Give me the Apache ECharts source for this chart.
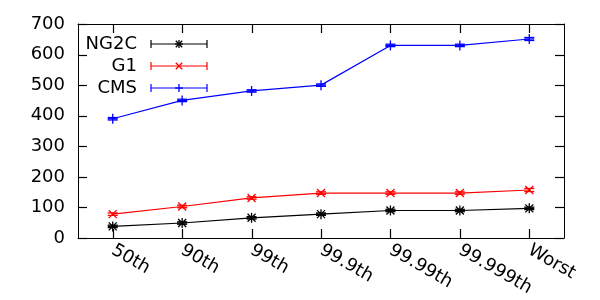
<!DOCTYPE html>
<html><head><meta charset="utf-8">
<script src="https://cdn.jsdelivr.net/npm/echarts@6/dist/echarts.min.js"></script>
<style>html,body{margin:0;padding:0;background:#fff}#c{width:600px;height:300px}</style>
</head><body><div id="c"></div>
<script>
var categories = ['50th', '90th', '99th', '99.9th', '99.99th', '99.999th', 'Worst'];
var ng2c = [38, 49, 66, 78, 90, 90, 97];
var g1 = [78, 103, 131, 147, 147, 147, 157];
var cms = [390, 450, 481, 500, 630, 630, 651];
var ng2cErr = [4, 4, 4, 4, 4, 4, 4];
var g1Err = [4, 4, 4, 4, 4, 4, 5];
var cmsErr = [4, 4, 4, 4, 4, 4, 5];
var yTicks = [0, 100, 200, 300, 400, 500, 600, 700];

(function () {
var FONT = 'DejaVu Sans';
var FS = 18;
var TICK = 9;
var GL = 78, GR = 36, GT = 24, GB = 62, W = 600, H = 300;
var chart = echarts.init(document.getElementById('c'));

function errData(vals, errs) {
  return vals.map(function (v, i) { return [i, v, v - errs[i], v + errs[i]]; });
}
function seg(x1, y1, x2, y2, color, w) {
  return { type: 'line', shape: { x1: x1, y1: y1, x2: x2, y2: y2 }, style: { stroke: color, lineWidth: w || 1.3 } };
}
function markerShape(shape, cx, cy, s, color) {
  var out = [];
  if (shape === 'plus' || shape === 'star') { out.push(seg(cx - s, cy, cx + s, cy, color)); out.push(seg(cx, cy - s, cx, cy + s, color)); }
  if (shape === 'cross' || shape === 'star') { var d = s * 0.8; out.push(seg(cx - d, cy - d, cx + d, cy + d, color)); out.push(seg(cx - d, cy + d, cx + d, cy - d, color)); }
  return out;
}
function makeRender(color, shape) {
  return function (params, api) {
    var c = api.coord([api.value(0), api.value(1)]);
    var lo = api.coord([api.value(0), api.value(2)]);
    var hi = api.coord([api.value(0), api.value(3)]);
    var w = 5;
    var ch = [
      seg(c[0], lo[1], c[0], hi[1], color),
      seg(c[0] - w, lo[1], c[0] + w, lo[1], color),
      seg(c[0] - w, hi[1], c[0] + w, hi[1], color)
    ].concat(markerShape(shape, c[0], c[1], 5, color));
    return { type: 'group', children: ch };
  };
}

var seriesDefs = [
  { name: 'NG2C', data: ng2c, err: ng2cErr, color: '#000000', shape: 'star' },
  { name: 'G1', data: g1, err: g1Err, color: '#ff0000', shape: 'cross' },
  { name: 'CMS', data: cms, err: cmsErr, color: '#0000ff', shape: 'plus' }
];

var series = [];
seriesDefs.forEach(function (d) {
  series.push({ type: 'line', data: d.data, symbol: 'none', lineStyle: { color: d.color, width: 1.2 }, silent: true, z: 2 });
  series.push({ type: 'custom', data: errData(d.data, d.err), renderItem: makeRender(d.color, d.shape), z: 3 });
});

var graphics = [];
var legendY = [44, 66, 88];
seriesDefs.forEach(function (d, i) {
  var y = legendY[i];
  graphics.push({ type: 'text', x: 137, y: y, style: { text: d.name, fill: '#000', font: FS + 'px "' + FONT + '"', textAlign: 'right', textVerticalAlign: 'middle' } });
  graphics.push(seg(151, y, 207, y, d.color, 1.2));
  graphics.push(seg(151, y - 4, 151, y + 4, d.color, 1.2));
  graphics.push(seg(207, y - 4, 207, y + 4, d.color, 1.2));
  markerShape(d.shape, 179, y, 4, d.color).forEach(function (m) { graphics.push(m); });
});

function axLine() { return { show: true, onZero: false, lineStyle: { color: '#000', width: 1 } }; }
chart.setOption({
  animation: false,
  backgroundColor: '#fff',
  grid: { left: GL, right: GR, top: GT, bottom: GB },
  xAxis: [
    { type: 'category', data: categories, position: 'bottom',
      axisLine: axLine(), axisTick: { show: false },
      axisLabel: { rotate: -30, margin: 11, color: '#000', fontSize: FS, fontFamily: FONT, interval: 0 },
      splitLine: { show: false } },
    { type: 'category', data: categories, position: 'top',
      axisLine: axLine(), axisTick: { show: false },
      axisLabel: { show: false }, splitLine: { show: false } }
  ],
  yAxis: [
    { type: 'value', min: 0, max: 700, interval: 100, position: 'left',
      axisLine: axLine(), axisTick: { show: false },
      axisLabel: { margin: 13, color: '#000', fontSize: FS, fontFamily: FONT },
      splitLine: { show: false } },
    { type: 'value', min: 0, max: 700, interval: 100, position: 'right',
      axisLine: axLine(), axisTick: { show: false },
      axisLabel: { show: false }, splitLine: { show: false } }
  ],
  series: series
});

// inward ticks on all four sides, positioned through the axes' own scales
var pL = GL, pR = W - GR, pT = GT, pB = H - GB;
yTicks.forEach(function (v) {
  var y = chart.convertToPixel({ yAxisIndex: 0 }, v);
  if (typeof y !== 'number' || isNaN(y)) return;
  y = Math.round(y) + 0.5;
  graphics.push(seg(pL, y, pL + TICK, y, '#000', 1.2));
  graphics.push(seg(pR - TICK, y, pR, y, '#000', 1.2));
});
categories.forEach(function (c, i) {
  var x = chart.convertToPixel({ xAxisIndex: 0 }, i);
  if (typeof x !== 'number' || isNaN(x)) return;
  x = Math.round(x) + 0.5;
  graphics.push(seg(x, pB, x, pB - TICK, '#000', 1.2));
  graphics.push(seg(x, pT, x, pT + TICK, '#000', 1.2));
});
chart.setOption({ graphic: graphics });
})();
</script>
</body></html>
